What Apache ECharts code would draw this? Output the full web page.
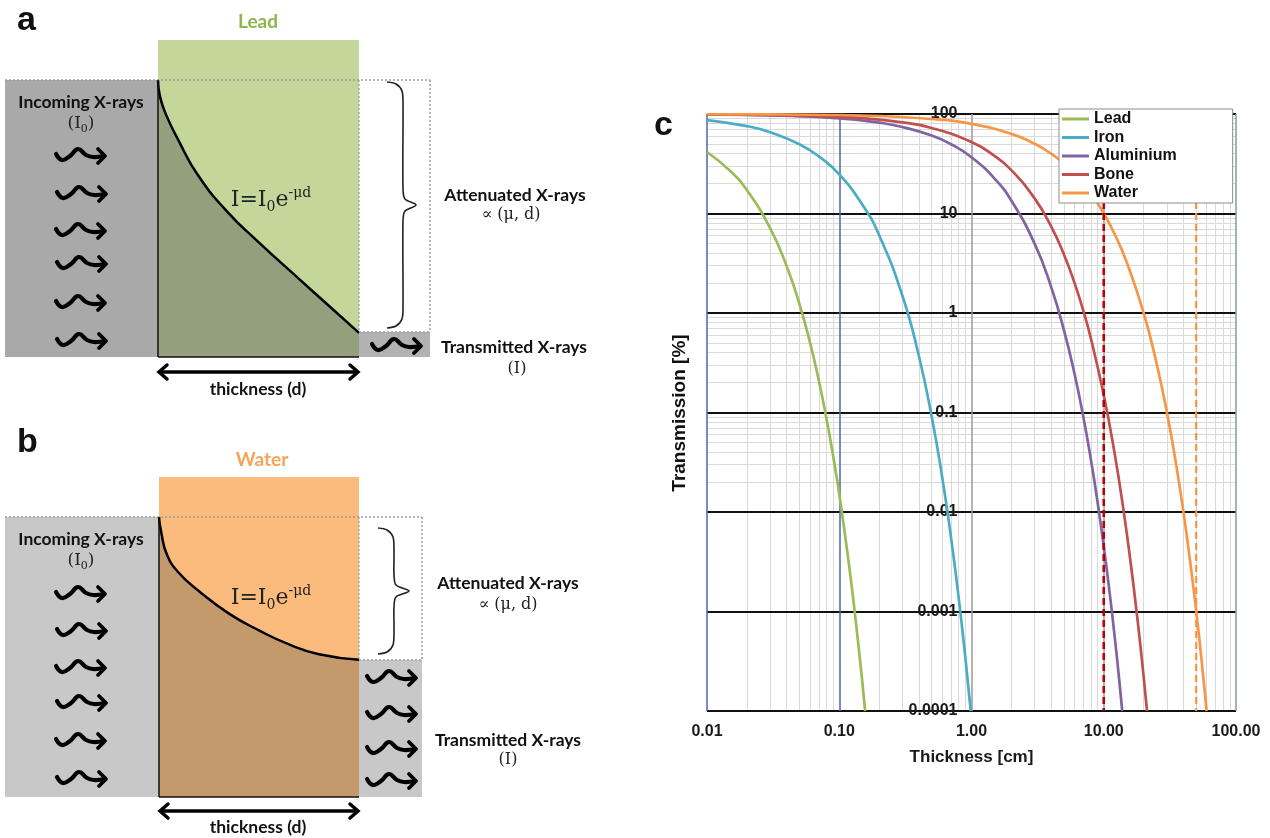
<!DOCTYPE html>
<html>
<head>
<meta charset="utf-8">
<script src="https://cdn.jsdelivr.net/npm/echarts@6/dist/echarts.min.js"></script>
<style>html,body{margin:0;padding:0;background:#fff;}#main{width:1270px;height:838px;}</style>
</head>
<body>
<div id="main"></div>
<script>
// ---------- DATA (panel c) ----------
const categories = ['Lead', 'Iron', 'Aluminium', 'Bone', 'Water'];
const seriesColors = ['#9bbb59', '#4bacc6', '#8064a2', '#c0504d', '#f79646'];
// [thickness cm, transmission %]
const leadData = [[0.01,41.5],[0.015,26.7],[0.02,17.2],[0.03,7.14],[0.04,2.96],[0.05,1.23],[0.06,0.509],[0.07,0.211],[0.08,0.0876],[0.09,0.0363],[0.1,0.0151],[0.12,0.00259],[0.14,0.000445],[0.157,0.0001]];
const ironData = [[0.01,86.9],[0.02,75.6],[0.03,65.7],[0.05,49.7],[0.07,37.5],[0.1,24.7],[0.15,12.2],[0.2,6.08],[0.3,1.50],[0.4,0.370],[0.5,0.0912],[0.6,0.0225],[0.7,0.00555],[0.8,0.00137],[0.9,0.000337],[0.987,0.0001]];
const aluminiumData = [[0.01,99.0],[0.03,97.0],[0.1,90.5],[0.2,81.9],[0.3,74.1],[0.5,60.7],[0.7,49.7],[1,36.8],[1.5,22.3],[2,13.5],[3,4.98],[4,1.83],[5,0.674],[6,0.248],[7,0.0912],[8,0.0335],[9,0.0123],[10,0.00454],[11,0.00167],[12,0.000614],[13,0.000226],[13.8,0.0001]];
const boneData = [[0.01,99.35],[0.1,93.7],[0.3,82.3],[0.5,72.3],[1,52.2],[1.5,37.7],[2,27.3],[3,14.2],[4,7.43],[5,3.88],[6,2.02],[7,1.06],[8,0.552],[10,0.150],[12,0.0410],[14,0.0112],[16,0.00304],[18,0.000829],[20,0.000226],[21.25,0.0001]];
const waterData = [[0.01,99.77],[0.1,97.7],[0.5,89.1],[1,79.5],[2,63.1],[3,50.2],[4,39.9],[5,31.7],[6,25.2],[8,15.9],[10,10.0],[12,6.33],[15,3.17],[20,1.01],[25,0.318],[30,0.101],[35,0.0319],[40,0.0101],[45,0.00319],[50,0.00101],[55,0.000319],[60,0.0001]];
const markerThickness = [10, 50];
const xTickLabels = ['0.01', '0.10', '1.00', '10.00', '100.00'];
const yTickLabels = ['0.0001', '0.001', '0.01', '0.1', '1', '10', '100'];
// ---------- DATA (panels a, b): relative thickness vs relative intensity ----------
const panelALead = [[0,1.0],[0.01,0.94],[0.04,0.875],[0.1,0.785],[0.2,0.655],[0.35,0.52],[0.5,0.415],[0.7,0.283],[0.85,0.185],[1.0,0.087]];
const panelBWater = [[0,1.0],[0.01,0.95],[0.04,0.865],[0.1,0.80],[0.2,0.735],[0.35,0.655],[0.5,0.595],[0.65,0.545],[0.8,0.51],[1.0,0.49]];

const seriesData = [leadData, ironData, aluminiumData, boneData, waterData];

// ---------- helpers ----------
const SANS = 'Lato';
const CH = 'Liberation Sans';
const SERIF = 'DejaVu Serif';
const LBL = 'bold 17.5px ' + SANS;
function txt(text, x, y, opt) {
  opt = opt || {};
  return {type:'text', z:60, rotation: opt.rotation || 0, x:x, y:y,
    style:{text:text, x:0, y:0, align: opt.align || 'center', verticalAlign:'middle',
      font: opt.font || LBL, fill: opt.fill || '#111', rich: opt.rich}};
}
function line(x1,y1,x2,y2,stroke,w,dash,z) {
  return {type:'line', z: z==null?40:z, shape:{x1:x1,y1:y1,x2:x2,y2:y2},
    style:{stroke:stroke, lineWidth:w, lineDash: dash || null}};
}
function rect(x,y,w,h,fill) {
  return {type:'rect', z:-5, shape:{x:x,y:y,width:w,height:h}, style:{fill:fill}};
}
function wave(x0, y0) {
  return [
    {type:'polyline', z:50, shape:{points:[[x0,y0-1],[x0+6,y0+5],[x0+14,y0+1],[x0+22,y0-6],[x0+30,y0],[x0+37,y0+2],[x0+48,y0+1]], smooth:0.45},
      style:{stroke:'#000', lineWidth:4.2, fill:null, lineCap:'round', lineJoin:'round'}},
    {type:'polyline', z:50, shape:{points:[[x0+42,y0-6],[x0+49,y0+1],[x0+42,y0+8]]},
      style:{stroke:'#000', lineWidth:3.8, fill:null, lineCap:'round', lineJoin:'round'}}
  ];
}
function brace(xL, yT, yB, xV, xTip) {
  const yM = (yT + yB) / 2;
  return {type:'polyline', z:50, shape:{points:[[xL,yT],[xL+9,yT+2],[xV-1,yT+9],[xV,yT+22],[xV,yM-16],[xV+2,yM-6],[xTip,yM],[xV+2,yM+6],[xV,yM+16],[xV,yB-22],[xV-1,yB-9],[xL+9,yB-2],[xL,yB]], smooth:0.3},
    style:{stroke:'#222', lineWidth:1.6, fill:null}};
}
function dblArrow(x1, x2, y) {
  return [
    line(x1+2, y, x2-2, y, '#000', 3.5, null, 50),
    {type:'polyline', z:50, shape:{points:[[x1+9,y-7],[x1+1,y],[x1+9,y+7]]}, style:{stroke:'#000', lineWidth:3.5, fill:null, lineCap:'round'}},
    {type:'polyline', z:50, shape:{points:[[x2-9,y-7],[x2-1,y],[x2-9,y+7]]}, style:{stroke:'#000', lineWidth:3.5, fill:null, lineCap:'round'}}
  ];
}
const formulaRich = {
  a:{fontFamily:SERIF, fontSize:22, lineHeight:28, fill:'#222'},
  s:{fontFamily:SERIF, fontSize:14, lineHeight:14, verticalAlign:'bottom', fill:'#222'},
  p:{fontFamily:SERIF, fontSize:14, lineHeight:14, verticalAlign:'top', fill:'#222'}
};
const i0Rich = {
  a:{fontFamily:SERIF, fontSize:17, lineHeight:22, fill:'#222'},
  s:{fontFamily:SERIF, fontSize:11, lineHeight:11, verticalAlign:'bottom', fill:'#222'}
};
const SER = '16px ' + SERIF;
const dotted = '#9a9a9a';

let g = [];
// ----- panel a -----
g.push(rect(158,40,201,317,'#c4d79b'));
g.push(rect(5,80,153,277,'#a9a9a9'));
g.push(rect(359,332,71,25,'#b2b2b2'));
g.push(line(5,80,430,80,dotted,1.5,[2,2]));
g.push(line(430,80,430,332,dotted,1.5,[2,2]));
g.push(line(359,332,430,332,dotted,1.5,[2,2]));
g.push(line(359,80,359,332,dotted,1.2,[2,2]));
g.push(line(158,80,158,357,'#111',1.5));
g.push(line(158,357,359,357,'#111',1.5));
g.push(txt('a', 17, 21, {align:'left', font:'bold 34px ' + CH}));
g.push(txt('Lead', 258, 22, {font:'bold 19px ' + SANS, fill:'#8cb84a'}));
g.push(txt('Incoming X-rays', 81, 102));
g.push(txt('{a|(I}{s|0}{a|)}', 81, 124, {rich:i0Rich, font:SER}));
g.push(txt('{a|I=I}{s|0}{a|e}{p|-μd}', 271, 200, {rich:formulaRich, font:'22px ' + SERIF}));
g.push(txt('Attenuated X-rays', 515, 195));
g.push(txt('∝ (μ, d)', 511, 215, {font:SER, fill:'#222'}));
g.push(txt('Transmitted X-rays', 514, 347));
g.push(txt('(I)', 517, 369, {font:SER, fill:'#222'}));
g.push(txt('thickness (d)', 258, 389));
[155,193,230,263,302,340].forEach(function(y, i){ g = g.concat(wave(56 + (i%2), y)); });
g = g.concat(wave(372, 345));
g.push(brace(387, 82, 328, 403, 416));
g = g.concat(dblArrow(158, 359, 372));
// ----- panel b -----
g.push(rect(159,477,200,320,'#fbbb7d'));
g.push(rect(5,517,154,280,'#c8c8c8'));
g.push(rect(359,660,63,137,'#c8c8c8'));
g.push(line(5,517,422,517,dotted,1.5,[2,2]));
g.push(line(422,517,422,660,dotted,1.5,[2,2]));
g.push(line(359,660,422,660,dotted,1.5,[2,2]));
g.push(line(359,517,359,660,dotted,1.2,[2,2]));
g.push(line(159,517,159,797,'#111',1.5));
g.push(line(159,797,359,797,'#111',1.5));
g.push(txt('b', 17, 443, {align:'left', font:'bold 34px ' + CH}));
g.push(txt('Water', 262, 460, {font:'bold 19px ' + SANS, fill:'#f5a55a'}));
g.push(txt('Incoming X-rays', 81, 539));
g.push(txt('{a|(I}{s|0}{a|)}', 81, 561, {rich:i0Rich, font:SER}));
g.push(txt('{a|I=I}{s|0}{a|e}{p|-μd}', 271, 598, {rich:formulaRich, font:'22px ' + SERIF}));
g.push(txt('Attenuated X-rays', 508, 583));
g.push(txt('∝ (μ, d)', 508, 605, {font:SER, fill:'#222'}));
g.push(txt('Transmitted X-rays', 508, 740));
g.push(txt('(I)', 508, 760, {font:SER, fill:'#222'}));
g.push(txt('thickness (d)', 258, 827));
[593,630,667,702,740,778].forEach(function(y, i){ g = g.concat(wave(56 + (i%2), y)); });
[677,713,748,780].forEach(function(y){ g = g.concat(wave(367, y)); });
g.push(brace(378, 528, 654, 394, 409));
g = g.concat(dblArrow(159, 359, 811));
// ----- panel c labels -----
g.push(txt('c', 654, 126, {align:'left', font:'bold 34px ' + CH}));
g.push(txt('Transmission [%]', 680, 413, {rotation:Math.PI/2, font:'bold 19px ' + CH}));

// ---------- minor gridlines (decoration) ----------
const minorX = [], minorY = [];
for (let d = -2; d <= 1; d++) for (let k = 2; k <= 9; k++) minorX.push({xAxis: k * Math.pow(10, d)});
for (let d = -4; d <= 1; d++) for (let k = 2; k <= 9; k++) minorY.push({yAxis: k * Math.pow(10, d)});

const GL = 707, GW = 529;

const series = [];
series.push({type:'line', name:'minor', xAxisIndex:0, yAxisIndex:0, z:-1, data:[[0.01,0.0001]], showSymbol:false, lineStyle:{width:0},
  markLine:{silent:true, z:-1, symbol:['none','none'], label:{show:false}, animation:false,
    lineStyle:{color:'#dadada', width:1, type:'solid'}, data: minorX.concat(minorY)}});
categories.forEach(function(name, i){
  series.push({type:'line', name:name, xAxisIndex:0, yAxisIndex:0, data:seriesData[i], smooth:true, showSymbol:false,
    lineStyle:{color:seriesColors[i], width:2.7}, itemStyle:{color:seriesColors[i]}, z:3});
});
series.push({type:'line', name:'ref-water', xAxisIndex:0, yAxisIndex:0, data:[[markerThickness[1],100],[markerThickness[1],0.0001]], showSymbol:false,
  lineStyle:{color:'#f79646', width:2.2, type:[7,4]}, z:4});
series.push({type:'line', name:'ref-bone', xAxisIndex:0, yAxisIndex:0, data:[[markerThickness[0],100],[markerThickness[0],0.0001]], showSymbol:false,
  lineStyle:{color:'#b80000', width:2.6, type:[7,4]}, z:5});
// panel a / b curves
series.push({type:'line', name:'panelA', xAxisIndex:1, yAxisIndex:1, data:panelALead, smooth:0.5, showSymbol:false,
  lineStyle:{color:'#000', width:2.5}, areaStyle:{color:'#939f7d', opacity:1}, z:2});
series.push({type:'line', name:'panelB', xAxisIndex:2, yAxisIndex:2, data:panelBWater, smooth:0.5, showSymbol:false,
  lineStyle:{color:'#000', width:2.5}, areaStyle:{color:'#c49a6c', opacity:1}, z:2});

const hiddenAxis = function(idx){ return {type:'value', gridIndex:idx, min:0, max:1, show:false}; };

const option = {
  animation:false,
  backgroundColor:'#fff',
  grid:[
    {left:GL, top:114, width:GW, height:597},
    {left:158, top:80, width:201, height:277},
    {left:159, top:517, width:200, height:280}
  ],
  legend:{data:categories, left:1059, top:109, orient:'vertical', icon:'rect', itemWidth:27, itemHeight:3, itemGap:0.5,
    padding:[1,56,1,3], backgroundColor:'#fff', borderColor:'#8c8c8c', borderWidth:1, borderRadius:0,
    textStyle:{fontSize:16, fontWeight:'bold', fontFamily:CH, color:'#111', lineHeight:18}, z:10},
  xAxis:[
    {type:'log', logBase:10, gridIndex:0, min:0.01, max:100,
      axisLine:{show:false}, axisTick:{show:false},
      axisLabel:{fontSize:16, fontWeight:'bold', fontFamily:CH, color:'#1a1a1a', margin:13,
        formatter:function(v){ return xTickLabels[Math.round(Math.log10(v)) + 2]; }},
      splitLine:{show:true, lineStyle:{color:['#4a67ad','#4a67ad','#9a9a9a','#9a9a9a','#8a96a8'], width:1.5}},
      name:'Thickness [cm]', nameLocation:'middle', nameGap:38,
      nameTextStyle:{fontSize:17, fontWeight:'bold', fontFamily:CH, color:'#1a1a1a'}},
    hiddenAxis(1), hiddenAxis(2)
  ],
  yAxis:[
    {type:'log', logBase:10, gridIndex:0, min:0.0001, max:100, position:'left', offset:-GW/2,
      axisLine:{show:false}, axisTick:{show:false},
      axisLabel:{fontSize:16, fontWeight:'bold', fontFamily:CH, color:'#1a1a1a', margin:14,
        formatter:function(v){ return yTickLabels[Math.round(Math.log10(v)) + 4]; }},
      splitLine:{show:true, lineStyle:{color:'#111', width:2}}},
    hiddenAxis(1), hiddenAxis(2)
  ],
  graphic:{elements:g},
  series:series
};
const chart = echarts.init(document.getElementById('main'), null, {renderer:'canvas'});
chart.setOption(option);
</script>
</body>
</html>
